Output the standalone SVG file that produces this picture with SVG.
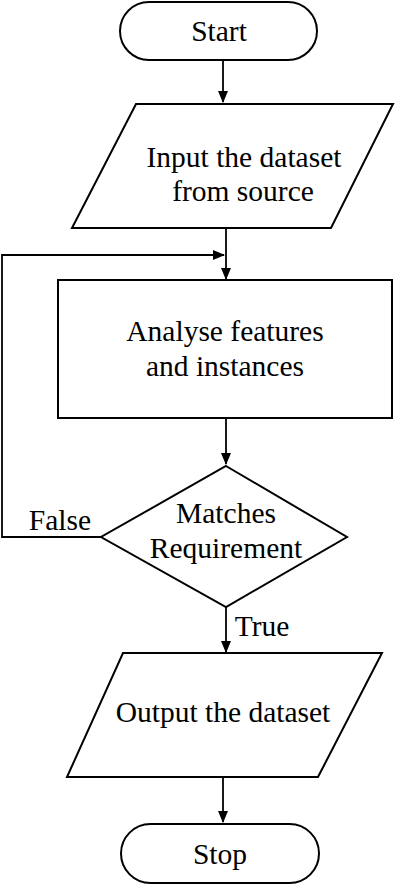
<svg xmlns="http://www.w3.org/2000/svg" width="395" height="885" viewBox="0 0 395 885">
<style>
.s{fill:#fff;stroke:#000;stroke-width:2}
.c{fill:none;stroke:#000;stroke-width:1.8}
text{font-family:"Liberation Serif","Times New Roman",serif;font-size:29.5px;fill:#000;text-anchor:middle}
</style>
<defs>
<marker id="a" markerWidth="13" markerHeight="12" refX="11" refY="5.5" orient="auto" markerUnits="userSpaceOnUse">
<path d="M0,0.5 L12,5.5 L0,10.5 Z" fill="#000"/>
</marker>
</defs>
<rect width="395" height="885" fill="#fff"/>
<g id="connectors">
<line class="c" x1="223" y1="61" x2="223" y2="102" marker-end="url(#a)"/>
<line class="c" x1="226" y1="228" x2="226" y2="279" marker-end="url(#a)"/>
<line class="c" x1="226" y1="418" x2="226" y2="464" marker-end="url(#a)"/>
<line class="c" x1="226" y1="607" x2="226" y2="652" marker-end="url(#a)"/>
<line class="c" x1="223" y1="777" x2="223" y2="822" marker-end="url(#a)"/>
<polyline class="c" points="101,537 2,537 2,255 224,255" marker-end="url(#a)"/>
<text x="60" y="530">False</text>
<text x="262" y="636">True</text>
</g>
<g id="start">
<rect class="s" x="120" y="2" width="197" height="58" rx="29"/>
<text x="219" y="41">Start</text>
</g>
<g id="input">
<polygon class="s" points="136,104 393,104 331,228 72,228"/>
<text x="244" y="167">Input the dataset</text>
<text x="243" y="201">from source</text>
</g>
<g id="analyse">
<rect class="s" x="58" y="280" width="334" height="138"/>
<text x="225" y="341">Analyse features</text>
<text x="225" y="376">and instances</text>
</g>
<g id="decision">
<polygon class="s" points="226,466 347,537 226,607 101,537"/>
<text x="226" y="523">Matches</text>
<text x="226" y="558">Requirement</text>
</g>
<g id="output">
<polygon class="s" points="123,653 382,653 318,777 67,777"/>
<text x="223" y="722">Output the dataset</text>
</g>
<g id="stop">
<rect class="s" x="121" y="824" width="198" height="59" rx="29.5"/>
<text x="220" y="864">Stop</text>
</g>
</svg>
